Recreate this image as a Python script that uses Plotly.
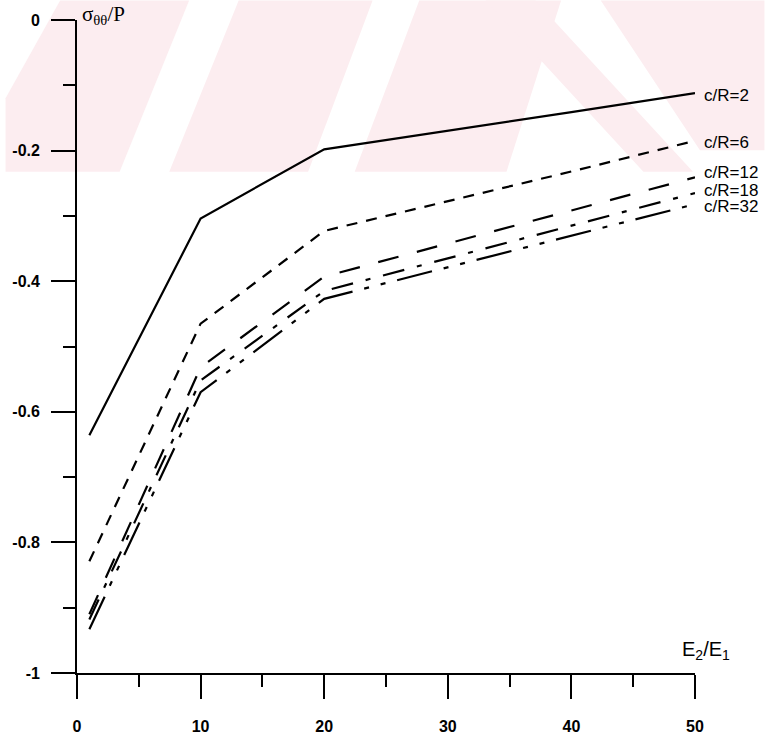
import plotly.graph_objects as go

# ---- data ----
x_ratio = [1, 10, 20, 30, 40, 50]
s_cR2  = [-0.636, -0.304, -0.198, -0.170, -0.141, -0.112]
s_cR6  = [-0.829, -0.465, -0.323, -0.278, -0.232, -0.185]
s_cR12 = [-0.910, -0.532, -0.393, -0.342, -0.292, -0.241]
s_cR18 = [-0.918, -0.552, -0.415, -0.365, -0.315, -0.265]
s_cR32 = [-0.933, -0.570, -0.427, -0.379, -0.330, -0.282]

series_names = ["c/R=2", "c/R=6", "c/R=12", "c/R=18", "c/R=32"]
series_vals = [s_cR2, s_cR6, s_cR12, s_cR18, s_cR32]
label_y = [-0.115, -0.187, -0.234, -0.261, -0.285]

x_tickvals = [0, 10, 20, 30, 40, 50]
x_ticktext = ["0", "10", "20", "30", "40", "50"]
y_tickvals = [0, -0.2, -0.4, -0.6, -0.8, -1]
y_ticktext = ["0", "-0.2", "-0.4", "-0.6", "-0.8", "-1"]

dashes = ["solid", "11px,9px", "21px,19px", "22px,13px,5px,13px",
          "36px,12px,5px,12px,5px,12px"]

W, H = 765, 747
ML, MR, MT, MB = 72, 70, 20, 60
PW, PH = W - ML - MR, H - MT - MB

fig = go.Figure()
for name, vals, d in zip(series_names, series_vals, dashes):
    fig.add_trace(go.Scatter(x=x_ratio, y=vals, mode="lines", name=name,
                             line=dict(color="black", width=2.2, dash=d),
                             cliponaxis=False, showlegend=False))

for name, ly in zip(series_names, label_y):
    fig.add_annotation(x=50, y=ly, xref="x", yref="y", text=name,
                       showarrow=False, xanchor="left", yanchor="middle",
                       xshift=7,
                       font=dict(family="Liberation Sans, Arial", size=17,
                                 color="black"))

fig.add_annotation(x=0, y=0, xref="x", yref="y", text="σ<sub>θθ</sub>/P",
                   showarrow=False, xanchor="left", yanchor="middle",
                   xshift=3, yshift=5,
                   font=dict(family="Liberation Serif, Times New Roman",
                             size=21, color="black"))
fig.add_annotation(x=50, y=-1, xref="x", yref="y", text="E<sub>2</sub>/E<sub>1</sub>",
                   showarrow=False, xanchor="center", yanchor="bottom",
                   xshift=11, yshift=8,
                   font=dict(family="Liberation Sans, Arial", size=20,
                             color="black"))

# faint pink scan watermark in the upper band (decoration, pixel outlines)
def ppath(pts):
    segs = []
    for i, (px, py) in enumerate(pts):
        xp = (px - ML) / PW
        yp = 1 - (py - MT) / PH
        segs.append(("M" if i == 0 else "L") + f"{xp:.4f},{yp:.4f}")
    return " ".join(segs) + " Z"

wm_polys = [
    [(55, 0), (185, 0), (115, 175), (0, 175), (0, 100)],
    [(235, 0), (370, 0), (305, 175), (165, 175)],
    [(417, 0), (560, 0), (505, 175), (352, 175)],
    [(484, 0), (534, 0), (693, 175), (643, 175)],
    [(600, 0), (765, 0), (765, 153), (700, 153)],
]
for poly in wm_polys:
    fig.add_shape(type="path", path=ppath(poly), xref="paper", yref="paper",
                  fillcolor="#fcedf0", line=dict(width=0), layer="below")

tickfont = dict(family="Liberation Sans, Arial", size=16, color="black",
                weight="bold")

fig.update_xaxes(range=[0, 50], tickvals=x_tickvals, ticktext=x_ticktext,
                 ticks="outside", ticklen=24, tickwidth=1.8, tickcolor="black",
                 showline=True, linecolor="black", linewidth=1.8,
                 showgrid=False, zeroline=False, tickfont=tickfont,
                 ticklabelstandoff=14,
                 minor=dict(dtick=5, ticks="outside", ticklen=12,
                            tickwidth=1.8, tickcolor="black", showgrid=False))
fig.update_yaxes(range=[-1, 0], tickvals=y_tickvals, ticktext=y_ticktext,
                 ticks="outside", ticklen=24, tickwidth=1.8, tickcolor="black",
                 showline=True, linecolor="black", linewidth=1.8,
                 showgrid=False, zeroline=False, tickfont=tickfont,
                 ticklabelstandoff=8,
                 minor=dict(dtick=0.1, ticks="outside", ticklen=12,
                            tickwidth=1.8, tickcolor="black", showgrid=False))

fig.update_layout(width=W, height=H,
                  margin=dict(l=ML, r=MR, t=MT, b=MB),
                  plot_bgcolor="rgba(0,0,0,0)", paper_bgcolor="white")

# remove the browser's default 8px body margin so the figure fills the window
fig.write_html("out.html", config={"displayModeBar": False},
               post_script="document.body.style.margin='0';"
                           "document.body.style.overflow='hidden';")
